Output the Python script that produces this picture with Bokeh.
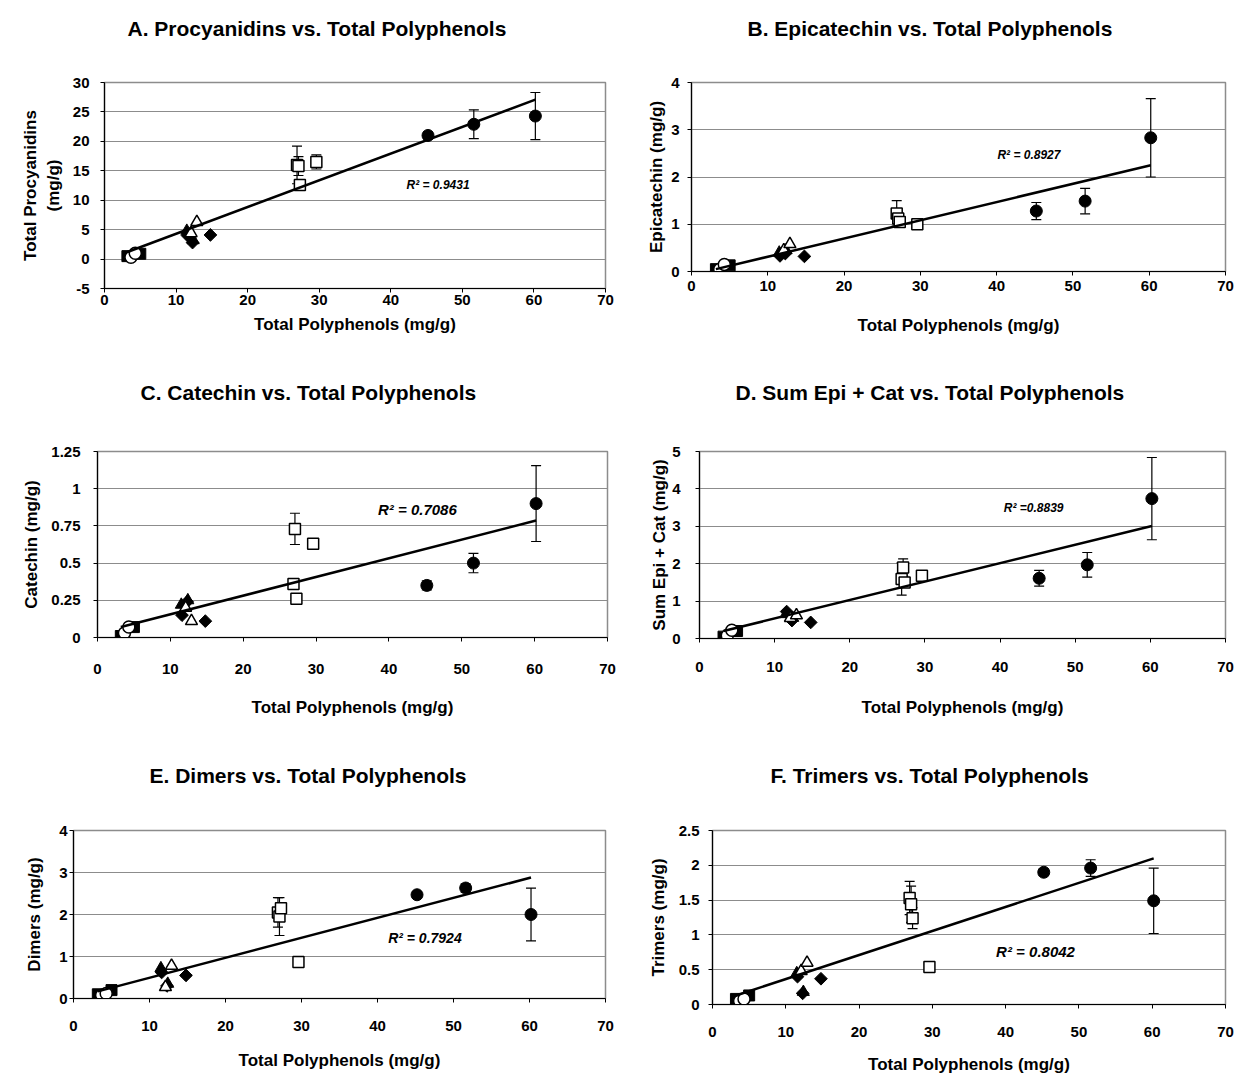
import math
from bokeh.plotting import figure
from bokeh.models import (Range1d, FixedTicker, CustomJSTickFormatter, Whisker,
                          TeeHead, ColumnDataSource, Title)
from bokeh.layouts import column, row
from bokeh.embed import file_html
from bokeh.resources import INLINE
from bokeh.core.properties import value

# ---------------- data ----------------
# Total polyphenols (mg/g) for each sample group (x values)
tp_filled_sq = [3.2, 5.0]
tp_open_circ = [3.7, 4.3]
tp_diamond = [11.6, 12.3, 14.8]
tp_filled_tri = [11.5, 12.4]
tp_open_tri = [12.1, 12.9]
tp_open_sq = [26.9, 27.1, 27.3, 29.6]
tp_filled_circ = [45.2, 51.6, 60.2]
trend_x = [3.2, 60.2]

x_ticks = [0, 10, 20, 30, 40, 50, 60, 70]

# A. Total procyanidins
A_filled_sq = [0.5, 0.9]
A_open_circ = [0.3, 1.0]
A_diamond = [4.0, 2.8, 4.1]
A_filled_tri = [4.8, 3.2]
A_open_tri = [4.4, 6.3]
A_open_sq = [16.0, 15.8, 12.6, 16.5]
A_open_sq_err = [3.2, 1.6, 0.5, 1.2]
A_filled_circ = [21.0, 22.9, 24.3]
A_filled_circ_err = [0.6, 2.45, 4.0]
A_trend = [1.2, 27.1]
A_r2 = "R\u00b2 = 0.9431"
A_yticks = [-5, 0, 5, 10, 15, 20, 25, 30]

# B. Epicatechin
B_filled_sq = [0.05, 0.13]
B_open_circ = [0.05, 0.15]
B_diamond = [0.33, 0.38, 0.32]
B_filled_tri = [0.40, 0.45]
B_open_tri = [0.45, 0.58]
B_open_sq = [1.23, 1.12, 1.05, 1.00]
B_open_sq_err = [0.27, 0.10, 0.05, 0.04]
B_filled_circ = [1.28, 1.49, 2.83]
B_filled_circ_err = [0.18, 0.27, 0.83]
B_trend = [0.05, 2.25]
B_r2 = "R\u00b2 = 0.8927"
B_yticks = [0, 1, 2, 3, 4]

# C. Catechin
C_filled_sq = [0.01, 0.07]
C_open_circ = [0.03, 0.07]
C_diamond = [0.15, 0.24, 0.11]
C_filled_tri = [0.22, 0.25]
C_open_tri = [0.20, 0.11]
C_open_sq = [0.36, 0.73, 0.26, 0.63]
C_open_sq_err = [0.02, 0.105, 0.02, 0.01]
C_filled_circ = [0.35, 0.50, 0.90]
C_filled_circ_err = [0.03, 0.065, 0.255]
C_trend = [0.07, 0.786]
C_r2 = "R\u00b2 = 0.7086"
C_yticks = [0, 0.25, 0.5, 0.75, 1, 1.25]

# D. Sum Epi + Cat
D_filled_sq = [0.05, 0.20]
D_open_circ = [0.08, 0.22]
D_diamond = [0.72, 0.48, 0.43]
D_filled_tri = [0.65, 0.55]
D_open_tri = [0.55, 0.62]
D_open_sq = [1.59, 1.90, 1.50, 1.68]
D_open_sq_err = [0.43, 0.23, 0.10, 0.05]
D_filled_circ = [1.61, 1.97, 3.74]
D_filled_circ_err = [0.21, 0.33, 1.10]
D_trend = [0.20, 3.01]
D_r2 = "R\u00b2 =0.8839"
D_yticks = [0, 1, 2, 3, 4, 5]

# E. Dimers
E_filled_sq = [0.10, 0.20]
E_open_circ = [0.08, 0.12]
E_diamond = [0.62, 0.30, 0.55]
E_filled_tri = [0.72, 0.35]
E_open_tri = [0.27, 0.78]
E_open_sq = [2.05, 1.95, 2.15, 0.87]
E_open_sq_err = [0.35, 0.45, 0.10, 0.05]
E_filled_circ = [2.47, 2.63, 2.00]
E_filled_circ_err = [0.07, 0.10, 0.63]
E_trend = [0.17, 2.88]
E_r2 = "R\u00b2 = 0.7924"
E_yticks = [0, 1, 2, 3, 4]

# F. Trimers
F_filled_sq = [0.08, 0.13]
F_open_circ = [0.05, 0.08]
F_diamond = [0.40, 0.16, 0.37]
F_filled_tri = [0.45, 0.18]
F_open_tri = [0.48, 0.60]
F_open_sq = [1.53, 1.44, 1.24, 0.54]
F_open_sq_err = [0.24, 0.26, 0.15, 0.03]
F_filled_circ = [1.90, 1.96, 1.49]
F_filled_circ_err = [0.05, 0.12, 0.47]
F_trend = [0.13, 2.10]
F_r2 = "R\u00b2 = 0.8042"
F_yticks = [0, 0.5, 1, 1.5, 2, 2.5]

x_label = "Total Polyphenols (mg/g)"

FONT = "Liberation Sans"


def whisker(p, xs, ys, errs):
    src = ColumnDataSource(dict(x=xs, lo=[y - e for y, e in zip(ys, errs)],
                                hi=[y + e for y, e in zip(ys, errs)]))
    w = Whisker(source=src, base="x", lower="lo", upper="hi", dimension="height",
                line_color="black", line_width=1.2,
                upper_head=TeeHead(size=10, line_color="black", line_width=1.2),
                lower_head=TeeHead(size=10, line_color="black", line_width=1.2))
    p.add_layout(w)


def panel(title, ylab, yticks, data, trend, r2, r2pos, r2size, lay):
    (fsq, ocirc, diam, ftri, otri, osq, osq_err, fcirc, fcirc_err) = data
    y0, y1 = yticks[0], yticks[-1]
    p = figure(width=lay["w"], height=lay["h"], output_backend="svg",
               toolbar_location=None, title=None,
               x_range=Range1d(0, 70), y_range=Range1d(y0, y1),
               min_border_left=lay["L"], min_border_right=lay["R"],
               min_border_top=lay["T"], min_border_bottom=lay["B"])
    p.background_fill_color = "white"
    p.border_fill_color = "white"
    p.outline_line_color = "#8c8c8c"
    p.outline_line_width = 1.5

    # spacer between frame and title, then the title itself (stacked upward)
    p.add_layout(Title(text=" ", text_font=FONT, text_font_size="10px",
                       standoff=lay["T"] - lay["tc"] - 24), "above")
    p.add_layout(Title(text=title, align="left", offset=lay["tl"] - lay["L"],
                       standoff=0, text_font=FONT, text_font_size="21px",
                       text_font_style="bold", text_color="black"), "above")

    xt = FixedTicker(ticks=x_ticks)
    yt = FixedTicker(ticks=yticks)
    p.xaxis.ticker = xt
    p.yaxis.ticker = yt
    p.ygrid.ticker = yt
    p.xgrid.visible = False
    p.ygrid.grid_line_color = "#8c8c8c"
    p.ygrid.grid_line_width = 1.2
    p.yaxis.formatter = CustomJSTickFormatter(code="return String(tick);")

    for ax in (p.xaxis, p.yaxis):
        ax.axis_line_color = "black"
        ax.axis_line_width = 1.2
        ax.major_tick_line_color = "black"
        ax.major_tick_in = 0
        ax.major_tick_out = 4
        ax.minor_tick_line_color = None
        ax.major_label_text_font = FONT
        ax.major_label_text_font_size = "15px"
        ax.major_label_text_font_style = "bold"
        ax.major_label_text_color = "black"
        ax.axis_label_text_font = FONT
        ax.axis_label_text_font_size = "17px"
        ax.axis_label_text_font_style = "bold"
        ax.axis_label_text_color = "black"
    p.xaxis.axis_label = x_label
    p.yaxis.axis_label = ylab
    p.xaxis.major_label_standoff = lay["xls"]
    p.xaxis.axis_label_standoff = lay["xas"]
    p.yaxis.major_label_standoff = lay["yls"]
    p.yaxis.axis_label_standoff = lay["yas"]

    # error bars (behind markers)
    whisker(p, tp_open_sq, osq, osq_err)
    whisker(p, tp_filled_circ, fcirc, fcirc_err)

    p.scatter(tp_filled_sq, fsq, marker="square", size=11, fill_color="black",
              line_color="black")
    p.scatter(tp_open_circ, ocirc, marker="circle", size=12, fill_color="white",
              line_color="black", line_width=1.5)
    p.scatter(tp_diamond, diam, marker="square", angle=math.pi / 4, size=9,
              fill_color="black", line_color="black")
    p.scatter(tp_filled_tri, ftri, marker="triangle", size=12, fill_color="black",
              line_color="black")
    p.scatter(tp_open_tri, otri, marker="triangle", size=12, fill_color="white",
              line_color="black", line_width=1.5)
    p.scatter(tp_open_sq, osq, marker="square", size=11, fill_color="white",
              line_color="black", line_width=1.5)
    p.scatter(tp_filled_circ, fcirc, marker="circle", size=12, fill_color="black",
              line_color="black")

    p.line(trend_x, trend, line_color="black", line_width=2.5)

    p.text(x=[r2pos[0]], y=[r2pos[1]], text=[r2], text_font=value(FONT),
           text_font_size=r2size, text_font_style="bold italic",
           text_align="left", text_baseline="middle", text_color="black")
    return p


# layout: figure size, borders, title left / centre (px within figure)
lay_A = dict(w=620, h=355, L=104, R=15, T=82, B=67, tl=127, tc=28,
             xls=2, xas=7, yls=11, yas=7)
lay_B = dict(w=614, h=338, L=71, R=9, T=82, B=67, tl=127, tc=28,
             xls=5, xas=22, yls=8, yas=2)
lay_C = dict(w=620, h=384, L=97, R=13, T=96, B=102, tl=140, tc=37,
             xls=22, xas=21, yls=13, yas=7)
lay_D = dict(w=614, h=385, L=79, R=9, T=96, B=102, tl=115, tc=37,
             xls=19, xas=23, yls=15, yas=0)
lay_E = dict(w=620, h=332, L=73, R=15, T=90, B=73, tl=149, tc=35,
             xls=18, xas=17, yls=2, yas=12)
lay_F = dict(w=614, h=338, L=92, R=9, T=90, B=73, tl=150, tc=35,
             xls=18, xas=15, yls=9, yas=8)

pA = panel("A. Procyanidins vs. Total Polyphenols", "Total Procyanidins\n(mg/g)", A_yticks,
           (A_filled_sq, A_open_circ, A_diamond, A_filled_tri, A_open_tri,
            A_open_sq, A_open_sq_err, A_filled_circ, A_filled_circ_err),
           A_trend, A_r2, (42.2, 12.6), "12px", lay_A)
pB = panel("B.  Epicatechin vs. Total Polyphenols", "Epicatechin (mg/g)", B_yticks,
           (B_filled_sq, B_open_circ, B_diamond, B_filled_tri, B_open_tri,
            B_open_sq, B_open_sq_err, B_filled_circ, B_filled_circ_err),
           B_trend, B_r2, (40.1, 2.46), "12px", lay_B)
pC = panel("C. Catechin vs. Total Polyphenols", "Catechin (mg/g)", C_yticks,
           (C_filled_sq, C_open_circ, C_diamond, C_filled_tri, C_open_tri,
            C_open_sq, C_open_sq_err, C_filled_circ, C_filled_circ_err),
           C_trend, C_r2, (38.5, 0.86), "15px", lay_C)
pD = panel("D. Sum Epi + Cat vs. Total Polyphenols", "Sum Epi + Cat (mg/g)", D_yticks,
           (D_filled_sq, D_open_circ, D_diamond, D_filled_tri, D_open_tri,
            D_open_sq, D_open_sq_err, D_filled_circ, D_filled_circ_err),
           D_trend, D_r2, (40.5, 3.5), "12px", lay_D)
pE = panel("E. Dimers vs. Total Polyphenols", "Dimers (mg/g)", E_yticks,
           (E_filled_sq, E_open_circ, E_diamond, E_filled_tri, E_open_tri,
            E_open_sq, E_open_sq_err, E_filled_circ, E_filled_circ_err),
           E_trend, E_r2, (41.4, 1.44), "14px", lay_E)
pF = panel("F. Trimers vs. Total Polyphenols", "Trimers (mg/g)", F_yticks,
           (F_filled_sq, F_open_circ, F_diamond, F_filled_tri, F_open_tri,
            F_open_sq, F_open_sq_err, F_filled_circ, F_filled_circ_err),
           F_trend, F_r2, (38.7, 0.76), "15px", lay_F)

layout = column(row(pA, pB), row(pC, pD), row(pE, pF))
open("out.html", "w").write(file_html(layout, INLINE))
